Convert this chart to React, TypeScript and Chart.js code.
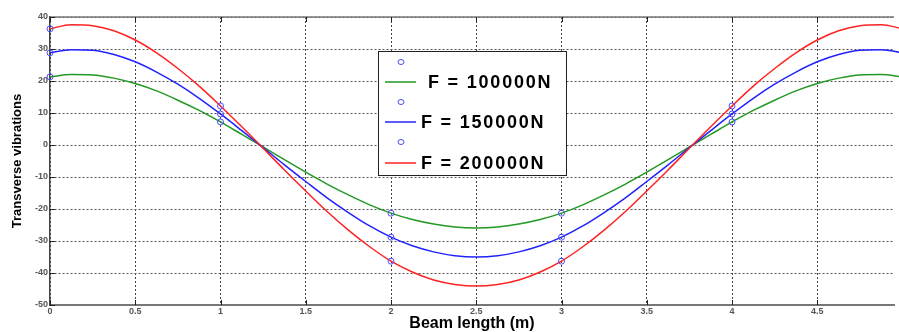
import React, { useEffect, useRef } from "react";
import { Chart, registerables } from "chart.js";

Chart.register(...registerables);

const FONT = '"Liberation Sans", Arial, Helvetica, sans-serif';

// Beam length positions (m)
const beamX = [0, 0.125, 0.25, 0.375, 0.5, 0.625, 0.75, 0.875, 1, 1.125, 1.25, 1.375, 1.5, 1.625, 1.75, 1.875, 2, 2.125, 2.25, 2.375, 2.5, 2.625, 2.75, 2.875, 3, 3.125, 3.25, 3.375, 3.5, 3.625, 3.75, 3.875, 4, 4.125, 4.25, 4.375, 4.5, 4.625, 4.75, 4.875, 5];

// Transverse vibrations curves
const greenF100k = [21.3, 22.0, 21.9, 20.9, 19.2, 16.9, 14.0, 10.8, 7.2, 3.3, -0.6, -4.6, -8.5, -12.2, -15.6, -18.7, -21.3, -23.3, -24.7, -25.6, -25.9, -25.6, -24.7, -23.3, -21.3, -18.7, -15.6, -12.2, -8.5, -4.6, -0.6, 3.3, 7.2, 10.8, 14.0, 16.9, 19.2, 20.9, 21.9, 22.0, 21.3];
const blueF150k = [28.8, 29.8, 29.6, 28.3, 26.0, 22.8, 19.0, 14.6, 9.7, 4.5, -0.8, -6.2, -11.4, -16.5, -21.1, -25.3, -28.8, -31.5, -33.4, -34.6, -35.0, -34.6, -33.4, -31.5, -28.8, -25.3, -21.1, -16.5, -11.4, -6.2, -0.8, 4.5, 9.7, 14.6, 19.0, 22.8, 26.0, 28.3, 29.6, 29.8, 28.8];
const redF200k = [36.3, 37.6, 37.3, 35.7, 32.8, 28.8, 23.9, 18.4, 12.2, 5.7, -1.0, -7.8, -14.4, -20.8, -26.6, -31.8, -36.3, -39.7, -42.2, -43.6, -44.1, -43.6, -42.2, -39.7, -36.3, -31.8, -26.6, -20.8, -14.4, -7.8, -1.0, 5.7, 12.2, 18.4, 23.9, 28.8, 32.8, 35.7, 37.3, 37.6, 36.3];

// Marker (node) values
const markX = [0, 1, 2, 3, 4, 5];
const greenMarks = [21.3, 7.2, -21.3, -21.3, 7.2, 21.3];
const blueMarks = [28.8, 9.7, -28.8, -28.8, 9.7, 28.8];
const redMarks = [36.3, 12.2, -36.3, -36.3, 12.2, 36.3];

const seriesLabels = ["F = 100000N", "F = 150000N", "F = 200000N"];
const seriesColors = ["#229922", "#2222ff", "#ff2222"];
const markerColor = "#4a4aff";

const xTitle = "Beam length (m)";
const yTitle = "Transverse vibrations";

const toXY = (xs: number[], ys: number[]) => xs.map((x, i) => ({ x, y: ys[i] }));

const decorPlugin = {
  id: "decor",
  beforeDatasetsDraw(chart: any) {
    const { ctx, chartArea: a, scales } = chart;
    const xs = scales.x;
    const ys = scales.y;
    ctx.save();
    ctx.strokeStyle = "#777";
    ctx.lineWidth = 1.5;
    ctx.beginPath();
    ctx.moveTo(a.left, a.top);
    ctx.lineTo(a.right, a.top);
    ctx.stroke();
    ctx.strokeStyle = "#222";
    ctx.lineWidth = 1;
    ctx.beginPath();
    xs.ticks.forEach((t: any) => {
      const px = Math.round(xs.getPixelForValue(t.value)) + 0.5;
      ctx.moveTo(px, a.bottom);
      ctx.lineTo(px, a.bottom - 5);
      ctx.moveTo(px, a.top);
      ctx.lineTo(px, a.top + 5);
    });
    ys.ticks.forEach((t: any) => {
      const py = Math.round(ys.getPixelForValue(t.value)) + 0.5;
      ctx.moveTo(a.left, py);
      ctx.lineTo(a.left + 5, py);
    });
    ctx.stroke();
    ctx.restore();
  },
  afterDatasetsDraw(chart: any) {
    const { ctx } = chart;
    ctx.save();
    const bx = 378.5, by = 51.5, bw = 188, bh = 124;
    ctx.fillStyle = "#fff";
    ctx.fillRect(bx, by, bw, bh);
    ctx.strokeStyle = "#222";
    ctx.lineWidth = 1;
    ctx.strokeRect(bx, by, bw, bh);
    const rows = [
      { cy: 62, ly: 82, tx: 428 },
      { cy: 102, ly: 122, tx: 421 },
      { cy: 142, ly: 163, tx: 421 },
    ];
    ctx.font = `bold 18px ${FONT}`;
    (ctx as any).letterSpacing = "1.8px";
    ctx.textBaseline = "middle";
    ctx.textAlign = "left";
    rows.forEach((r, i) => {
      ctx.strokeStyle = markerColor;
      ctx.lineWidth = 1;
      ctx.beginPath();
      ctx.ellipse(401, r.cy, 3, 2.5, 0, 0, Math.PI * 2);
      ctx.stroke();
      ctx.strokeStyle = seriesColors[i];
      ctx.lineWidth = 1.5;
      ctx.beginPath();
      ctx.moveTo(385, r.ly);
      ctx.lineTo(416, r.ly);
      ctx.stroke();
      ctx.fillStyle = "#000";
      ctx.fillText(seriesLabels[i], r.tx, r.ly + 1);
    });
    ctx.restore();
  },
};

export default function App() {
  const ref = useRef<HTMLCanvasElement | null>(null);
  useEffect(() => {
    if (!ref.current) return;
    const lineSets = [greenF100k, blueF150k, redF200k].map((vals, i) => ({
      type: "line" as const,
      label: seriesLabels[i],
      data: toXY(beamX, vals),
      borderColor: seriesColors[i],
      backgroundColor: seriesColors[i],
      borderWidth: 1.5,
      pointRadius: 0,
      cubicInterpolationMode: "monotone" as const,
      order: 3 - i,
      clip: false as any,
    }));
    const markSets = [greenMarks, blueMarks, redMarks].map((vals, i) => ({
      type: "line" as const,
      label: "nodes " + i,
      data: toXY(markX, vals),
      showLine: false,
      borderColor: markerColor,
      backgroundColor: "rgba(0,0,0,0)",
      pointRadius: 3,
      pointBorderWidth: 1,
      pointBorderColor: markerColor,
      pointBackgroundColor: "rgba(0,0,0,0)",
      order: 0,
      clip: false as any,
    }));
    const chart = new Chart(ref.current, {
      type: "line",
      data: { datasets: [...lineSets, ...markSets] as any },
      options: {
        animation: false,
        responsive: false,
        events: [],
        layout: { padding: { top: 17, left: 0, right: 0, bottom: 0 } },
        plugins: { legend: { display: false }, tooltip: { enabled: false } },
        scales: {
          x: {
            type: "linear",
            min: 0,
            max: 4.95,
            afterFit: (s: any) => { s.height = 27; },
            ticks: {
              stepSize: 0.5,
              includeBounds: false,
              callback: (v: any) => String(v),
              font: { family: FONT, size: 9, weight: "bold" },
              color: "#555",
              padding: 1,
              maxRotation: 0,
            },
            grid: { color: "#444", lineWidth: 1, drawTicks: false },
            border: { display: true, color: "#777", width: 2, dash: [2, 2] },
            title: {
              display: true,
              text: xTitle,
              font: { family: FONT, size: 16, weight: "bold", lineHeight: 1.0 },
              color: "#000",
              padding: { top: 0, bottom: 0 },
            },
          },
          y: {
            type: "linear",
            min: -50,
            max: 40,
            afterFit: (s: any) => { s.width = 50; },
            ticks: {
              stepSize: 10,
              font: { family: FONT, size: 9, weight: "bold" },
              color: "#555",
              padding: 2,
            },
            grid: { color: "#555", lineWidth: 1, drawTicks: false },
            border: { display: true, color: "#444", width: 1.5, dash: [2, 2] },
            title: {
              display: true,
              text: yTitle,
              font: { family: FONT, size: 13, weight: "bold" },
              color: "#000",
              padding: { top: 10, bottom: 0 },
            },
          },
        },
      },
      plugins: [decorPlugin],
    });
    return () => chart.destroy();
  }, []);
  return (
    <div style={{ position: "absolute", left: 0, top: 0, width: 899, height: 332, background: "#fff" }}>
      <canvas ref={ref} width={899} height={332} style={{ display: "block" }} />
    </div>
  );
}
